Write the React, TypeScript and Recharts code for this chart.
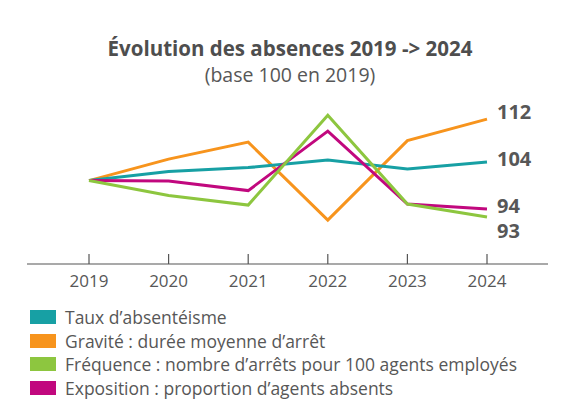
import { LineChart, Line, XAxis, YAxis, LabelList } from "recharts";

const years = ["2019", "2020", "2021", "2022", "2023", "2024"];
const taux = [100, 101.8, 102.6, 104.1, 102.3, 103.7];
const gravite = [100, 104.3, 107.7, 92.1, 108.0, 112.3];
const frequence = [100, 97.0, 95.1, 113.1, 95.3, 92.7];
const exposition = [100, 99.9, 98.0, 109.9, 95.3, 94.3];

const seriesNames = [
  "Taux d’absentéisme",
  "Gravité : durée moyenne d’arrêt",
  "Fréquence : nombre d’arrêts pour 100 agents employés",
  "Exposition : proportion d’agents absents",
];

const FONT = "'Open Sans', 'Noto Sans', sans-serif";
const TEXT = "#575757";

const series = [
  { key: "gravite", color: "#f7941d", labelDy: -8 },
  { key: "taux", color: "#17a0a4", labelDy: -3.5 },
  { key: "exposition", color: "#c1087e", labelDy: -4 },
  { key: "frequence", color: "#8dc63f", labelDy: 13 },
];
const legendColors = ["#17a0a4", "#f7941d", "#8dc63f", "#c1087e"];

const data = years.map((year, i) => ({
  year,
  taux: taux[i],
  gravite: gravite[i],
  frequence: frequence[i],
  exposition: exposition[i],
}));

function YearTick({ x, y, payload }: any) {
  return (
    <g>
      <line x1={x} x2={x} y1={y - 10} y2={y} stroke="#555" strokeWidth={1.2} />
      <text x={x} y={y + 23} textAnchor="middle" fontSize={17} fill={TEXT} fontFamily={FONT}>
        {payload.value}
      </text>
    </g>
  );
}

function endLabel(dy: number) {
  return (props: any) => {
    const { x, y, value, index } = props;
    if (index !== years.length - 1) return null;
    return (
      <text
        x={x + 10}
        y={y + dy}
        dominantBaseline="central"
        fontSize={20}
        fontWeight={700}
        fill={TEXT}
        fontFamily={FONT}
      >
        {Math.round(value)}
      </text>
    );
  };
}

export default function App() {
  return (
    <div
      style={{
        position: "absolute",
        left: 0,
        top: 0,
        width: 580,
        height: 411,
        background: "#fff",
        fontFamily: FONT,
        color: TEXT,
      }}
    >
      <div
        style={{
          position: "absolute",
          top: 34,
          left: 0,
          width: 580,
          textAlign: "center",
          fontSize: 20.5,
          fontWeight: 700,
          color: "#4e4e4e",
          lineHeight: "28px",
        }}
      >
        Évolution des absences 2019 -&gt; 2024
      </div>
      <div
        style={{
          position: "absolute",
          top: 61,
          left: 0,
          width: 580,
          textAlign: "center",
          fontSize: 19.5,
          lineHeight: "28px",
        }}
      >
        (base 100 en 2019)
      </div>
      <div style={{ position: "absolute", left: 0, top: 0 }}>
        <LineChart
          width={580}
          height={300}
          data={data}
          margin={{ top: 80.7, right: 32, bottom: 6, left: 27 }}
        >
          <XAxis
            dataKey="year"
            height={30}
            padding={{ left: 62, right: 61 }}
            axisLine={{ stroke: "#555", strokeWidth: 1.2 }}
            tickLine={false}
            tickSize={0}
            tickMargin={0}
            tick={<YearTick />}
            interval={0}
          />
          <YAxis hide domain={[83.3, 120]} />
          {series.map((s) => (
            <Line
              key={s.key}
              dataKey={s.key}
              stroke={s.color}
              strokeWidth={3}
              dot={false}
              activeDot={false}
              type="linear"
              isAnimationActive={false}
            >
              <LabelList dataKey={s.key} content={endLabel(s.labelDy)} />
            </Line>
          ))}
        </LineChart>
      </div>
      <div style={{ position: "absolute", left: 30, top: 305 }}>
        {seriesNames.map((name, i) => (
          <div
            key={name}
            style={{ display: "flex", alignItems: "center", height: 23.7, fontSize: 17.5 }}
          >
            <span
              style={{
                display: "inline-block",
                width: 26,
                height: 14,
                background: legendColors[i],
                marginRight: 9,
              }}
            />
            <span>{name}</span>
          </div>
        ))}
      </div>
    </div>
  );
}
